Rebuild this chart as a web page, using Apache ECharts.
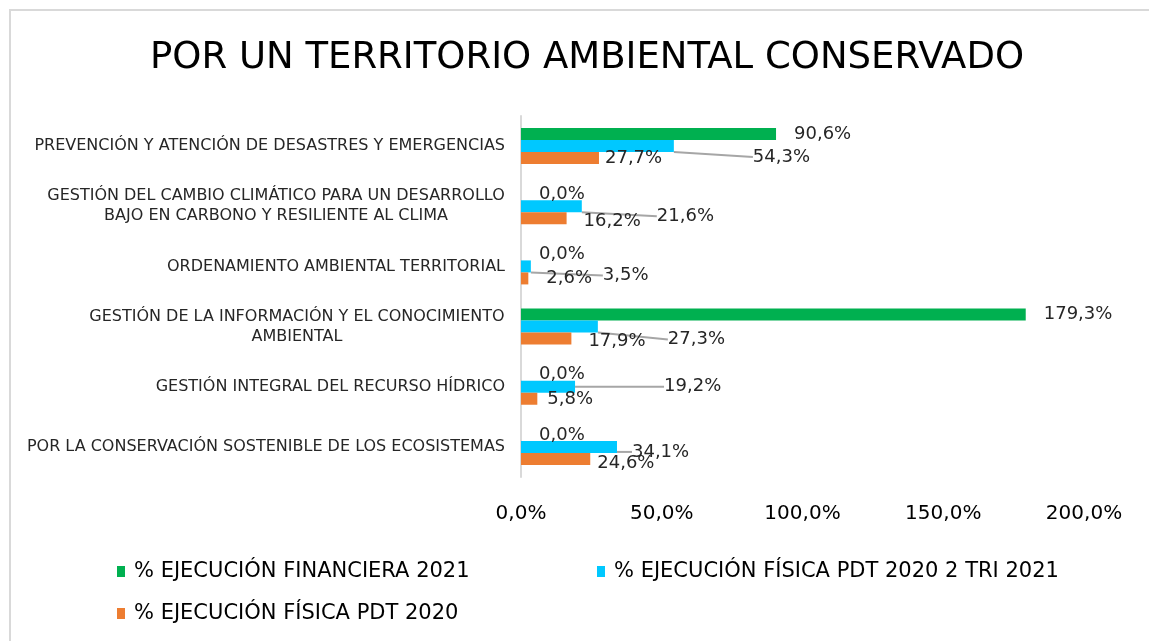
<!DOCTYPE html>
<html>
<head>
<meta charset="utf-8">
<title>Por un territorio ambiental conservado</title>
<script src="https://cdn.jsdelivr.net/npm/echarts@6/dist/echarts.min.js"></script>
<style>
html, body { margin: 0; padding: 0; background: #fff; overflow: hidden; }
#frame { position: absolute; left: 9px; top: 9px; width: 1160px; height: 650px; border-top: 2px solid #d9d9d9; border-left: 2px solid #d9d9d9; }
#chartContainer { position: absolute; left: 0; top: 0; width: 1149px; height: 641px; }
</style>
</head>
<body>
<div id="frame"></div>
<div id="chartContainer"></div>
<script>
// datos (de arriba hacia abajo)
var categories = [
    'PREVENCIÓN Y ATENCIÓN DE DESASTRES Y EMERGENCIAS',
    'GESTIÓN DEL CAMBIO CLIMÁTICO PARA UN DESARROLLO\nBAJO EN CARBONO Y RESILIENTE AL CLIMA',
    'ORDENAMIENTO AMBIENTAL TERRITORIAL',
    'GESTIÓN DE LA INFORMACIÓN Y EL CONOCIMIENTO\nAMBIENTAL',
    'GESTIÓN INTEGRAL DEL RECURSO HÍDRICO',
    'POR LA CONSERVACIÓN SOSTENIBLE DE LOS ECOSISTEMAS'
];
var financiera2021 = [90.6, 0, 0, 179.3, 0, 0];
var fisicaTri2021 = [54.3, 21.6, 3.5, 27.3, 19.2, 34.1];
var fisica2020 = [27.7, 16.2, 2.6, 17.9, 5.8, 24.6];
var xTicks = [0, 50, 100, 150, 200];
var seriesNames = [
    '% EJECUCIÓN FINANCIERA 2021',
    '% EJECUCIÓN FÍSICA PDT 2020 2 TRI 2021',
    '% EJECUCIÓN FÍSICA PDT 2020'
];

// desplazamiento de etiquetas (como en Excel)
var cyanShift = [[79, 11], [75, 10], [72, 9], [70, 13], [89, 0], [15, 5]];
var orangeShift = [[6, 0], [17, 3], [18, 0], [17, 3], [10, 1], [7, 4]];

var FONT = '"DejaVu Sans", Verdana, sans-serif';
var CAT_SIZE = 16;

function pct(v) {
    return v.toFixed(1).replace('.', ',') + '%';
}

// ancho de texto para centrar etiquetas de dos lineas
var mctx = document.createElement('canvas').getContext('2d');
mctx.font = CAT_SIZE + 'px ' + FONT;
var rich = {};
categories.forEach(function (c, i) {
    var lines = c.split('\n');
    if (lines.length > 1) {
        var w = 0;
        lines.forEach(function (l) { w = Math.max(w, mctx.measureText(l).width); });
        rich['c' + i] = { width: Math.ceil(w), align: 'center', fontSize: CAT_SIZE, fontFamily: FONT, color: '#262626', lineHeight: 20 };
    }
});

var myChart = echarts.init(document.getElementById('chartContainer'));

var labelBase = { show: true, position: 'right', fontSize: 18, fontFamily: FONT, color: '#262626',
    formatter: function (p) { return pct(p.value); } };

var option = {
    animation: false,
    title: {
        text: 'POR UN TERRITORIO AMBIENTAL CONSERVADO',
        left: 582, textAlign: 'center', top: 35,
        textStyle: { fontSize: 37, fontWeight: 'normal', fontFamily: FONT, color: '#000' }
    },
    legend: [
        { data: [seriesNames[0]], left: 112, top: 556 },
        { data: [seriesNames[1]], left: 592, top: 556 },
        { data: [seriesNames[2]], left: 112, top: 598 }
    ].map(function (l) {
        l.icon = 'rect'; l.itemWidth = 8; l.itemHeight = 11;
        l.textStyle = { fontSize: 21, fontFamily: FONT, color: '#000', padding: [0, 0, 0, 4] };
        return l;
    }),
    grid: { left: 521, right: 65, top: 116, bottom: 164 },
    xAxis: {
        type: 'value', min: xTicks[0], max: xTicks[xTicks.length - 1], interval: 50,
        axisLine: { show: false }, axisTick: { show: false }, splitLine: { show: false },
        axisLabel: { margin: 27, fontSize: 20, fontFamily: FONT, color: '#000',
            formatter: function (v) { return pct(v); } }
    },
    yAxis: {
        type: 'category', inverse: true, data: categories,
        axisLine: { lineStyle: { color: '#d9d9d9', width: 2 } },
        axisTick: { show: false },
        axisLabel: {
            margin: 16, fontSize: CAT_SIZE, fontFamily: FONT, color: '#262626', rich: rich,
            formatter: function (v, i) {
                var lines = v.split('\n');
                if (lines.length === 1) return v;
                return lines.map(function (l) { return '{c' + i + '|' + l + '}'; }).join('\n');
            }
        }
    },
    series: [
        {
            name: seriesNames[0], type: 'bar', data: financiera2021,
            barWidth: 12, barGap: 0, itemStyle: { color: '#00b050' },
            label: Object.assign({}, labelBase, { distance: 18 })
        },
        {
            name: seriesNames[1], type: 'bar', data: fisicaTri2021,
            barWidth: 12, barGap: 0, itemStyle: { color: '#00c8ff' },
            label: Object.assign({}, labelBase, { distance: 0 }),
            labelLayout: function (p) {
                return { dx: cyanShift[p.dataIndex][0], dy: cyanShift[p.dataIndex][1] };
            },
            labelLine: { show: true, lineStyle: { color: '#a6a6a6', width: 2 } }
        },
        {
            name: seriesNames[2], type: 'bar', data: fisica2020,
            barWidth: 12, barGap: 0, itemStyle: { color: '#ed7d31' },
            label: Object.assign({}, labelBase, { distance: 0 }),
            labelLayout: function (p) {
                return { dx: orangeShift[p.dataIndex][0], dy: orangeShift[p.dataIndex][1] };
            }
        }
    ]
};

myChart.setOption(option);
</script>
</body>
</html>
